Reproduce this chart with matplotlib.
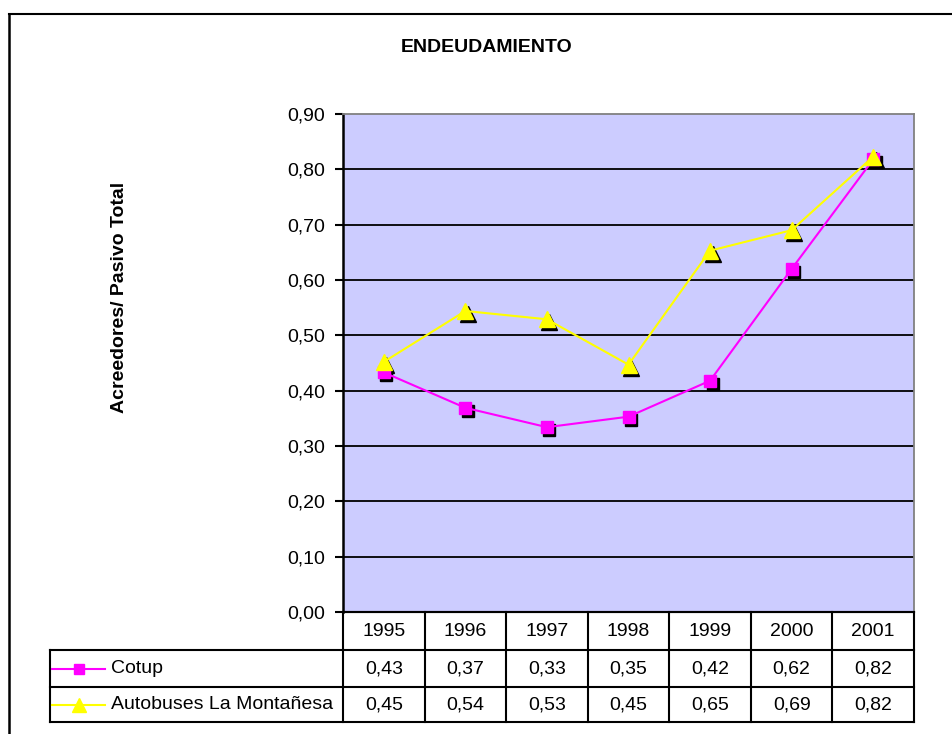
import numpy as np
import matplotlib
matplotlib.use("Agg")
import matplotlib.pyplot as plt
import matplotlib.transforms as mtransforms
from matplotlib.lines import Line2D

plt.rcParams["font.family"] = ["Liberation Sans", "DejaVu Sans"]

# ───── data ─────────────────────────────────────────────────────────────
YEARS = ["1995", "1996", "1997", "1998", "1999", "2000", "2001"]
COTUP = [0.433, 0.369, 0.334, 0.353, 0.418, 0.620, 0.818]
MONTANESA = [0.452, 0.544, 0.529, 0.447, 0.653, 0.690, 0.823]
SERIES_NAMES = ["Cotup", "Autobuses La Montañesa"]
Y_TICKS = [0.0, 0.1, 0.2, 0.3, 0.4, 0.5, 0.6, 0.7, 0.8, 0.9]

MAGENTA = "#FF00FF"
YELLOW = "#FFFF00"
BG = "#CCCCFF"
FS = 14        # regular text
FS_B = 14      # bold titles

W, H = 953, 734
fig = plt.figure(figsize=(W / 100, H / 100), dpi=100)

def fx(px):
    return px / W

def fy(py):
    return 1 - py / H

L, R, T, B = 343, 914, 114, 612
ax = fig.add_axes([fx(L), fy(B), fx(R) - fx(L), fy(T) - fy(B)])
ax.set_facecolor(BG)

x = np.arange(len(YEARS))
ax.set_xlim(-0.5, len(YEARS) - 0.5)
ax.set_ylim(0, 0.9)
ax.set_yticks(Y_TICKS)
ax.set_yticklabels([f"{v:.2f}".replace(".", ",") for v in Y_TICKS], fontsize=FS)
ax.set_xticks([])
ax.tick_params(axis="y", direction="out", length=6, width=1.5, pad=7)
for v in Y_TICKS[1:-1]:
    ax.axhline(v, color="black", lw=1.3, zorder=1)

ax.spines["left"].set_linewidth(1.8)
ax.spines["left"].set_color("black")
ax.spines["bottom"].set_linewidth(1.5)
ax.spines["bottom"].set_color("black")
for s in ("top", "right"):
    ax.spines[s].set_color("#808080")
    ax.spines[s].set_linewidth(1.3)

# marker shadows
shadow = ax.transData + mtransforms.ScaledTranslation(0.025, -0.03, fig.dpi_scale_trans)
ax.plot(x, COTUP, ls="none", marker="s", ms=8, color="black", transform=shadow, zorder=3)
ax.plot(x, MONTANESA, ls="none", marker="^", ms=12, color="black", transform=shadow, zorder=3)

ax.plot(x, COTUP, color=MAGENTA, lw=1.5, zorder=4)
ax.plot(x, COTUP, ls="none", marker="s", ms=8, mfc=MAGENTA, mec=MAGENTA, zorder=5)
ax.plot(x, MONTANESA, color=YELLOW, lw=1.5, zorder=4)
ax.plot(x, MONTANESA, ls="none", marker="^", ms=12, mfc=YELLOW, mec=YELLOW, zorder=5)

# ───── data table below the plot ────────────────────────────────────────
trans = mtransforms.blended_transform_factory(ax.transData, ax.transAxes)
hpx = B - T
rows_px = [612, 650, 687, 722]
rows = [-(r - B) / hpx for r in rows_px]
left_cell = (50 - L) / (R - L)

kw = dict(color="black", lw=1.5, clip_on=False)
for i in range(len(YEARS) + 1):
    ax.add_line(Line2D([i - 0.5, i - 0.5], [rows[0], rows[3]], transform=trans, **kw))
ax.add_line(Line2D([0, 1], [rows[0], rows[0]], transform=ax.transAxes, **kw))
for r in rows[1:]:
    ax.add_line(Line2D([left_cell, 1], [r, r], transform=ax.transAxes, **kw))
ax.add_line(Line2D([left_cell, left_cell], [rows[1], rows[3]], transform=ax.transAxes, **kw))

for i, yr in enumerate(YEARS):
    ax.text(i, (rows[0] + rows[1]) / 2, yr, transform=trans, ha="center", va="center", fontsize=FS)
for vals, r0, r1 in ((COTUP, rows[1], rows[2]), (MONTANESA, rows[2], rows[3])):
    for i, v in enumerate(vals):
        ax.text(i, (r0 + r1) / 2, f"{v:.2f}".replace(".", ","), transform=trans,
                ha="center", va="center", fontsize=FS)

# legend keys in table
for name, col, mk, ms, r0, r1 in ((SERIES_NAMES[0], MAGENTA, "s", 7, rows[1], rows[2]),
                                  (SERIES_NAMES[1], YELLOW, "^", 10, rows[2], rows[3])):
    yc = (r0 + r1) / 2
    x0, x1 = (52 - L) / (R - L), (105 - L) / (R - L)
    ax.add_line(Line2D([x0, x1], [yc, yc], color=col, lw=1.5, transform=ax.transAxes, clip_on=False))
    ax.add_line(Line2D([(x0 + x1) / 2], [yc], marker=mk, ms=ms, color=col, ls="none",
                       transform=ax.transAxes, clip_on=False))
    ax.text((111 - L) / (R - L), yc, name, transform=ax.transAxes, ha="left", va="center", fontsize=FS)

# titles
fig.text(fx(487), fy(48), "ENDEUDAMIENTO", ha="center", va="center", fontsize=FS_B, fontweight="bold")
fig.text(fx(120), fy(297), "Acreedores/ Pasivo Total", ha="center", va="center",
         rotation=90, fontsize=FS_B, fontweight="bold")

# outer chart frame (left and top edges visible)
fig.add_artist(Line2D([fx(9), fx(9)], [fy(14), 0], color="black", lw=1.8, transform=fig.transFigure))
fig.add_artist(Line2D([fx(9), 1], [fy(14), fy(14)], color="black", lw=1.5, transform=fig.transFigure))

fig.savefig("out.png", dpi=100)
